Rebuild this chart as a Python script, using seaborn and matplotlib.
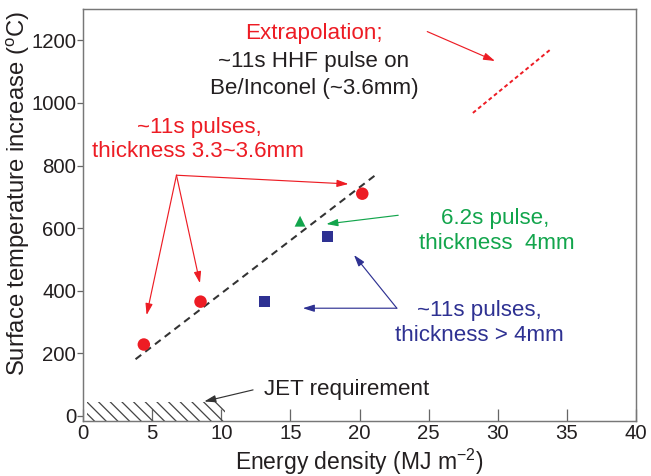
import pandas as pd
import seaborn as sns
import matplotlib.pyplot as plt

# measured points (energy density MJ/m2, surface temperature increase degC)
red_x = [4.4, 8.5, 20.2]
red_y = [228, 365, 710]
blue_x = [13.1, 17.7]
blue_y = [365, 572]
green_x = [15.7]
green_y = [622]

# dashed trend and extrapolated HHF line
fit_x = [3.8, 21.2]
fit_y = [181, 771]
extrap_x = [28.2, 33.9]
extrap_y = [968, 1174]

# JET requirement band
jet_x = [0.3, 10.3]
jet_low = -18
jet_high = 44

x_ticks = [0, 5, 10, 15, 20, 25, 30, 35, 40]
y_ticks = [0, 200, 400, 600, 800, 1000, 1200]

RED = '#ed1c24'
BLUE = '#2e3192'
GREEN = '#12a54c'
DARK = '#231f20'

sns.set_theme(style='white')
plt.rcParams['font.family'] = ['Liberation Sans', 'DejaVu Sans']
plt.rcParams['hatch.linewidth'] = 1.3
plt.rcParams['hatch.color'] = '#444444'

pts = pd.DataFrame({
    'x': red_x + blue_x + green_x,
    'y': red_y + blue_y + green_y,
    'group': ['red'] * len(red_x) + ['blue'] * len(blue_x) + ['green'] * len(green_x),
})

fig, ax = plt.subplots(figsize=(9.3, 6.8), dpi=70)
fig.subplots_adjust(left=0.1275, right=0.977, bottom=0.1145, top=0.981)

# hatched JET requirement
ax.fill_between(jet_x, jet_low, jet_high, facecolor='none', edgecolor='#444444',
                hatch='\\\\', linewidth=0)

sns.lineplot(x=fit_x, y=fit_y, color='#333333', lw=2.1, linestyle=(0, (3.5, 2.5)), ax=ax)
sns.lineplot(x=extrap_x, y=extrap_y, color=RED, lw=2.0, linestyle=(0, (2, 1.5)), ax=ax)

sns.scatterplot(data=pts, x='x', y='y', hue='group', style='group', size='group',
                palette={'red': RED, 'blue': BLUE, 'green': GREEN},
                markers={'red': 'o', 'blue': 's', 'green': '^'},
                sizes={'red': 165, 'blue': 125, 'green': 125},
                linewidth=0, legend=False, ax=ax, zorder=3)

fs = 23
arrow = dict(arrowstyle='-|>,head_length=0.7,head_width=0.22', lw=1.2, mutation_scale=14,
             shrinkA=0, shrinkB=0)

# extrapolation note
ax.text(16.7, 1223, 'Extrapolation;', color=RED, fontsize=fs, ha='center', va='center')
ax.text(16.7, 1131, '~11s HHF pulse on', color=DARK, fontsize=fs, ha='center', va='center')
ax.text(16.7, 1046, 'Be/Inconel (~3.6mm)', color=DARK, fontsize=fs, ha='center', va='center')
ax.annotate('', xy=(29.8, 1134), xytext=(24.9, 1228), arrowprops=dict(arrow, color=RED))

# thin tiles
ax.text(8.4, 923, '~11s pulses,', color=RED, fontsize=fs, ha='center', va='center')
ax.text(8.3, 844, 'thickness 3.3~3.6mm', color=RED, fontsize=fs, ha='center', va='center')
for tip in [(19.2, 741), (4.6, 322), (8.46, 424)]:
    ax.annotate('', xy=tip, xytext=(6.76, 769), arrowprops=dict(arrow, color=RED))

# 6.2s pulse
ax.text(29.8, 631, '6.2s pulse,', color=GREEN, fontsize=fs, ha='center', va='center')
ax.text(29.95, 550, 'thickness  4mm', color=GREEN, fontsize=fs, ha='center', va='center')
ax.annotate('', xy=(17.6, 613), xytext=(22.8, 641), arrowprops=dict(arrow, color=GREEN))

# thick tiles
ax.text(28.7, 338, '~11s pulses,', color=BLUE, fontsize=fs, ha='center', va='center')
ax.text(28.7, 258, 'thickness > 4mm', color=BLUE, fontsize=fs, ha='center', va='center')
for tip in [(15.9, 344), (19.6, 514)]:
    ax.annotate('', xy=tip, xytext=(22.7, 344), arrowprops=dict(arrow, color=BLUE))

# JET requirement
ax.text(13.1, 83, 'JET requirement', color=DARK, fontsize=fs, ha='left', va='center')
ax.annotate('', xy=(8.77, 46), xytext=(12.3, 83), arrowprops=dict(arrow, color='#333333'))

ax.set_xlim(0, 40)
ax.set_ylim(-18, 1300)
ax.set_xticks(x_ticks)
ax.set_yticks(y_ticks)
ax.tick_params(axis='x', direction='in', length=12, width=1.3, color='#666666',
               bottom=True, labelsize=21, labelcolor=DARK, pad=3)
ax.tick_params(axis='y', direction='out', length=6, width=1.3, color='#666666',
               left=True, labelsize=21, labelcolor=DARK, pad=1)
for sp in ax.spines.values():
    sp.set_color('#777777')
    sp.set_linewidth(1.5)

ax.set_xlabel('Energy density (MJ m$^{\\mathregular{-2}}$)', fontsize=23.5, color=DARK, labelpad=3)
ax.set_ylabel('Surface temperature increase ($^{\\mathregular{o}}$C)', fontsize=24.5, color=DARK)
ax.yaxis.set_label_coords(-0.092, 0.554)

fig.savefig('out.png', dpi=70)
